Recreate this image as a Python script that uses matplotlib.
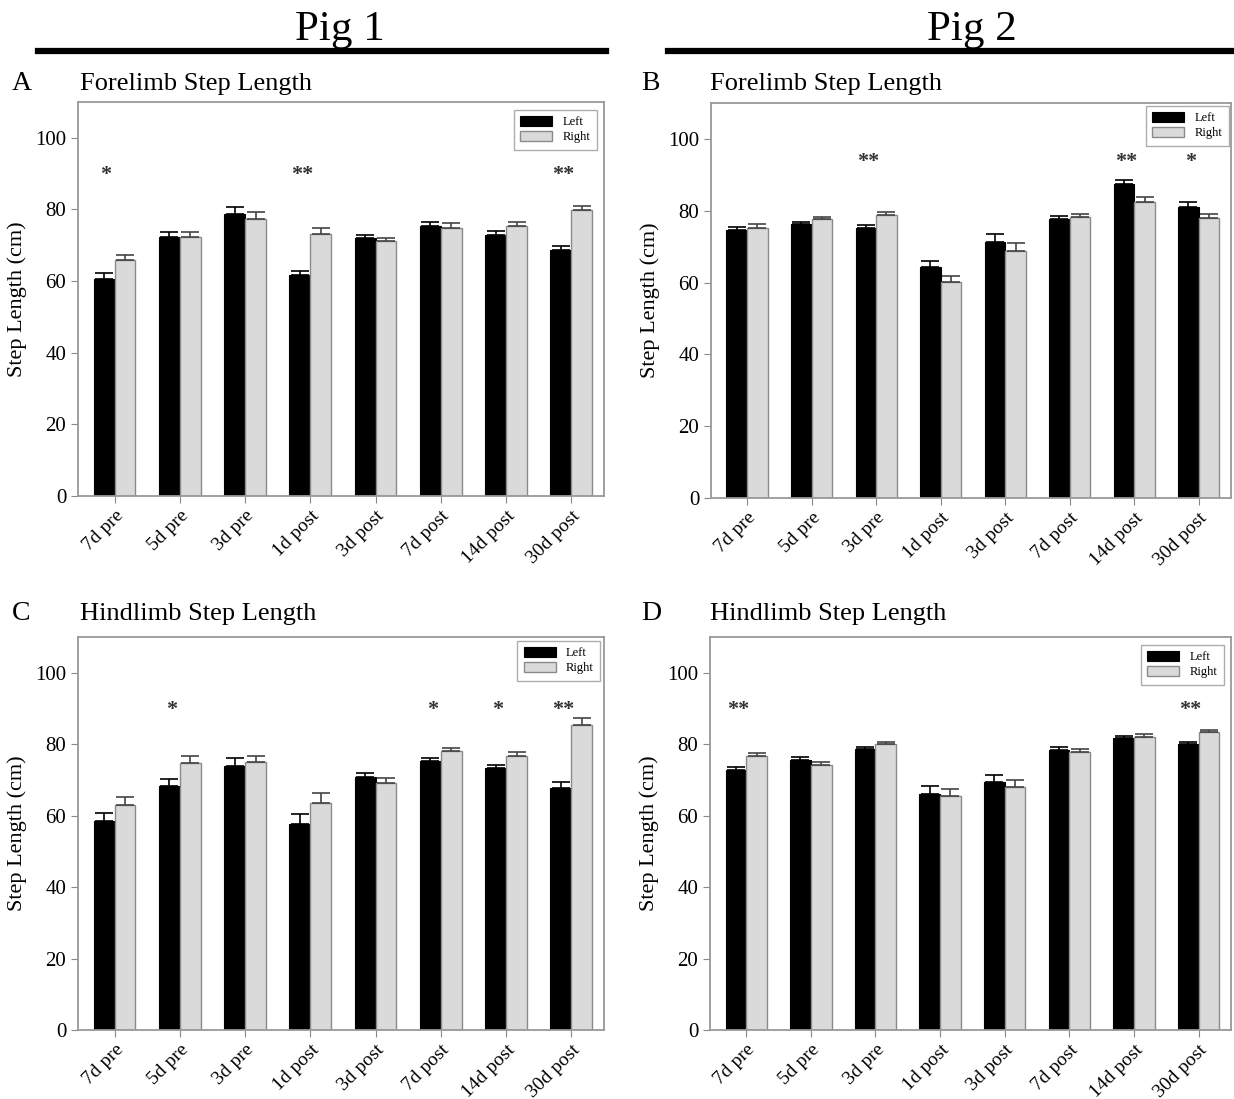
import numpy as np
import matplotlib
matplotlib.use("Agg")
import matplotlib.pyplot as plt

plt.rcParams['font.family'] = ['Liberation Serif', 'DejaVu Serif']

days = ['7d pre', '5d pre', '3d pre', '1d post', '3d post', '7d post', '14d post', '30d post']

# Pig 1 forelimb (A)
a_left = [60.7, 72.3, 78.8, 61.6, 72.1, 75.3, 72.9, 68.8]
a_left_err = [1.6, 1.3, 1.9, 1.3, 0.8, 1.3, 1.1, 1.1]
a_right = [65.8, 72.3, 77.2, 73.2, 71.3, 74.8, 75.3, 79.8]
a_right_err = [1.5, 1.3, 2.0, 1.5, 0.8, 1.3, 1.2, 1.1]
a_stars = ['*', '', '', '**', '', '', '', '**']

# Pig 2 forelimb (B)
b_left = [74.6, 76.2, 75.3, 64.3, 71.3, 77.7, 87.4, 81.1]
b_left_err = [1.0, 0.8, 0.7, 1.6, 2.1, 0.9, 1.1, 1.2]
b_right = [75.3, 77.6, 78.9, 60.1, 68.8, 78.3, 82.4, 78.0]
b_right_err = [1.0, 0.7, 0.8, 1.6, 2.1, 0.7, 1.3, 1.2]
b_stars = ['', '', '**', '', '', '', '**', '*']

# Pig 1 hindlimb (C)
c_left = [58.4, 68.2, 74.0, 57.6, 70.7, 75.3, 73.3, 67.7]
c_left_err = [2.2, 2.1, 2.0, 2.9, 1.3, 0.9, 0.9, 1.8]
c_right = [63.1, 74.7, 75.0, 63.5, 69.2, 78.2, 76.8, 85.5]
c_right_err = [2.0, 2.0, 1.7, 2.7, 1.3, 0.8, 1.1, 1.8]
c_stars = ['', '*', '', '', '', '*', '*', '**']

# Pig 2 hindlimb (D)
d_left = [72.7, 75.7, 78.6, 66.0, 69.5, 78.3, 81.6, 80.0]
d_left_err = [1.0, 0.8, 0.6, 2.2, 1.9, 0.9, 0.6, 0.5]
d_right = [76.7, 74.2, 80.0, 65.5, 68.1, 77.7, 82.0, 83.4]
d_right_err = [0.8, 0.9, 0.6, 1.9, 2.0, 0.9, 0.8, 0.6]
d_stars = ['**', '', '', '', '', '', '', '**']

W, H = 1234, 1099
fig = plt.figure(figsize=(W / 100, H / 100), dpi=100)


def px_axes(left, right, top, bottom):
    return fig.add_axes([left / W, (H - bottom) / H, (right - left) / W, (bottom - top) / H])


def panel(ax, left, left_err, right, right_err, stars, star_y, legpad):
    x = np.arange(len(days))
    w = 0.32
    ax.bar(x - w / 2, left, w, color='black', edgecolor='black', linewidth=0.8, label='Left')
    ax.bar(x + w / 2, right, w, color='#dadada', edgecolor='#8a8a8a', linewidth=1.0, label='Right')
    ax.errorbar(x - w / 2, left, yerr=[np.zeros(len(left)), left_err], fmt='none',
                ecolor='black', elinewidth=1.2, capsize=6.5, capthick=1.2)
    ax.errorbar(x + w / 2, right, yerr=[np.zeros(len(right)), right_err], fmt='none',
                ecolor='#444444', elinewidth=1.2, capsize=6.5, capthick=1.2)
    # significance marks sit over the left bar
    for i, s in enumerate(stars):
        if s:
            ax.text(x[i] - 0.13, star_y, s, ha='center', va='center', fontsize=16,
                    fontweight='bold', color='#333333')
    ax.set_xlim(-0.56, 7.5)
    ax.set_ylim(0, 110)
    ax.set_yticks([0, 20, 40, 60, 80, 100])
    ax.set_xticks(x)
    ax.set_xticklabels(days, rotation=45, ha='right', va='top', rotation_mode='anchor', fontsize=14)
    ax.tick_params(axis='y', labelsize=15, length=5, color='#888888')
    ax.tick_params(axis='x', length=5, color='#888888', pad=3)
    for sp in ax.spines.values():
        sp.set_color('#999999')
        sp.set_linewidth(1.3)
    ax.set_ylabel('Step Length (cm)', fontsize=16, labelpad=6)
    leg = ax.legend(loc='upper right', fontsize=9, frameon=True, fancybox=False,
                    handlelength=2.6, handleheight=0.9, borderpad=0.5,
                    labelspacing=0.2, borderaxespad=legpad)
    leg.get_frame().set_edgecolor('#999999')
    leg.get_frame().set_linewidth(1.0)


axA = px_axes(78, 604, 102, 496)
axB = px_axes(711, 1231, 103, 498)
axC = px_axes(78, 604, 637, 1030)
axD = px_axes(710, 1231, 637, 1030)

panel(axA, a_left, a_left_err, a_right, a_right_err, a_stars, 89.5, 0.6)
panel(axB, b_left, b_left_err, b_right, b_right_err, b_stars, 93.5, 0.2)
panel(axC, c_left, c_left_err, c_right, c_right_err, c_stars, 89.5, 0.3)
panel(axD, d_left, d_left_err, d_right, d_right_err, d_stars, 89.5, 0.6)

# panel letters and titles
for letter, title, lx, tx, ty in [('A', 'Forelimb Step Length', 12, 80, 84),
                                  ('B', 'Forelimb Step Length', 641, 710, 84),
                                  ('C', 'Hindlimb Step Length', 12, 80, 614),
                                  ('D', 'Hindlimb Step Length', 641, 710, 614)]:
    fig.text(lx / W, 1 - ty / H, letter, fontsize=20, va='center', ha='left')
    fig.text(tx / W, 1 - ty / H, title, fontsize=19, va='center', ha='left')

# pig headers with underline
fig.text(340 / W, 1 - 30 / H, 'Pig 1', fontsize=31, ha='center', va='center')
fig.text(972 / W, 1 - 30 / H, 'Pig 2', fontsize=31, ha='center', va='center')
fig.add_artist(plt.Line2D([38 / W, 606 / W], [1 - 51 / H, 1 - 51 / H], color='black', linewidth=4.5))
fig.add_artist(plt.Line2D([668 / W, 1234 / W], [1 - 51 / H, 1 - 51 / H], color='black', linewidth=4.5))

fig.savefig('out.png', dpi=100)
